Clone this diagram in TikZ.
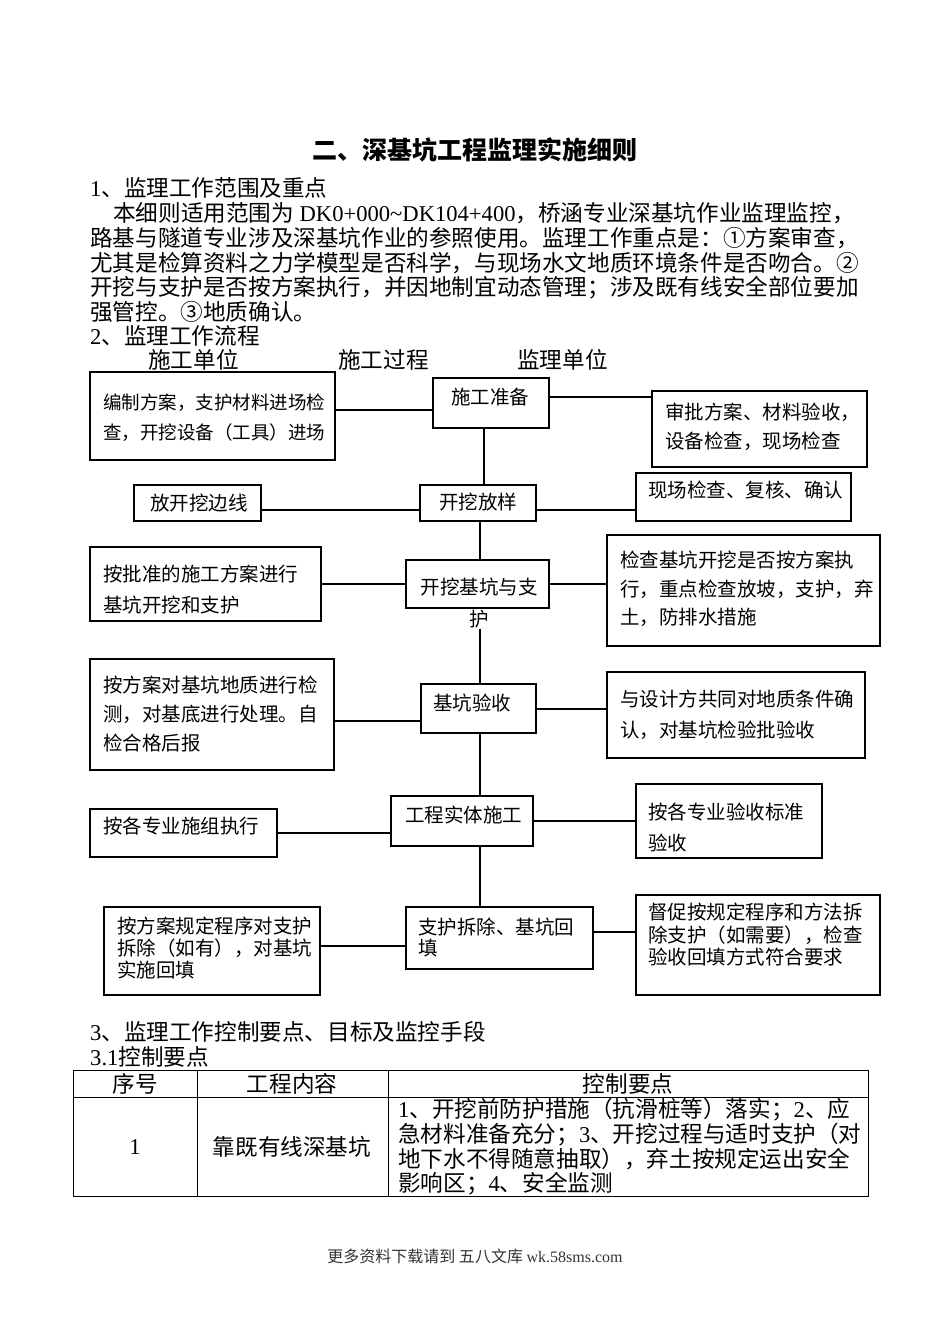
\documentclass[tikz,border=0pt]{standalone}
\usepackage{fontspec}
\setmainfont{Noto Sans CJK SC}
\newfontfamily\lat{Liberation Serif}

\tikzset{
  flowbox/.style={draw=black, line width=1.3pt, inner sep=0pt, outer sep=0pt},
  flowtxt/.style={inner sep=0pt, align=left, anchor=west, font=\fontsize{19.5}{30}\selectfont},
  link/.style={draw=black, line width=1.3pt},
  bodytxt/.style={inner sep=0pt, anchor=west, font=\fontsize{22.6}{24.5}\selectfont},
  celltxt/.style={inner sep=0pt, font=\fontsize{22.6}{24.6}\selectfont},
}

\begin{document}
\begin{tikzpicture}[x=1pt, y=-1pt]
  \fill[white] (0,0) rectangle (950,1344);
  \useasboundingbox (0,0) rectangle (950,1344);
  \node[inner sep=0pt, font=\fontsize{25}{30}\selectfont\bfseries] (title) at (475,150) {二、深基坑工程监理实施细则};
  \node[bodytxt] (sec1) at (90,188) {{\lat 1}、监理工作范围及重点};
  \foreach \i/\xx/\yy/\txt in {
    1/113/213/{本细则适用范围为{\lat\ DK0+000\textasciitilde DK104+400}，桥涵专业深基坑作业监理监控，},
    2/90/238/{路基与隧道专业涉及深基坑作业的参照使用。监理工作重点是：①方案审查，},
    3/90/263/{尤其是检算资料之力学模型是否科学，与现场水文地质环境条件是否吻合。②},
    4/90/288/{开挖与支护是否按方案执行，并因地制宜动态管理；涉及既有线安全部位要加},
    5/90/312/{强管控。③地质确认。}
  }{
    \node[bodytxt] (par\i) at (\xx,\yy) {\txt};
  }
  \node[bodytxt] (sec2) at (90,336) {{\lat 2}、监理工作流程};
  \foreach \n/\xx/\txt in {unit/148/施工单位, proc/338/施工过程, sup/517/监理单位}{
    \node[bodytxt] (\n) at (\xx,360) {\txt};
  }

  \foreach \n/\xa/\ya/\xb/\yb in {
    l1/90/372/335/460, c1/433/378/549/428, r1/652/391/867/467,
    l2/134/485/261/521, c2/420/485/536/521, r2/636/473/851/521,
    l3/90/547/321/621, c3/406/560/549/608, r3/607/535/880/646,
    l4/90/659/334/770, c4/421/684/536/733, r4/607/672/865/758,
    l5/90/809/277/857, c5/391/796/533/846, r5/636/784/822/858,
    l6/104/907/320/995, c6/406/907/593/969, r6/636/895/880/995
  }{
    \node[flowbox, minimum width=\xb-\xa, minimum height=\yb-\ya] (\n) at ({(\xa+\xb)/2},{(\ya+\yb)/2}) {};
  }

  \node[flowtxt, font=\fontsize{18.5}{30}\selectfont] (l1t) at (103,418) {编制方案，支护材料进场检\\查，开挖设备（工具）进场};
  \node[flowtxt] (c1t) at (451,397) {施工准备};
  \node[flowtxt, font=\fontsize{19.5}{29}\selectfont] (r1t) at (665,427) {审批方案、材料验收，\\设备检查，现场检查};
  \node[flowtxt, anchor=center] (l2t) at (199,503) {放开挖边线};
  \node[flowtxt, anchor=center] (c2t) at (478,502) {开挖放样};
  \node[flowtxt] (r2t) at (648,490) {现场检查、复核、确认};
  \node[flowtxt, font=\fontsize{19.5}{31}\selectfont] (l3t) at (103,590) {按批准的施工方案进行\\基坑开挖和支护};
  \node[flowtxt, anchor=north, align=center, font=\fontsize{19.5}{32}\selectfont] (c3t) at (479,578) {开挖基坑与支\\护};
  \node[flowtxt, font=\fontsize{19.5}{28.5}\selectfont] (r3t) at (620,589) {检查基坑开挖是否按方案执\\行，重点检查放坡，支护，弃\\土，防排水措施};
  \node[flowtxt, font=\fontsize{19.5}{29}\selectfont] (l4t) at (103,714) {按方案对基坑地质进行检\\测，对基底进行处理。自\\检合格后报};
  \node[flowtxt] (c4t) at (433,703) {基坑验收};
  \node[flowtxt, font=\fontsize{19.5}{31}\selectfont] (r4t) at (620,715) {与设计方共同对地质条件确\\认，对基坑检验批验收};
  \node[flowtxt] (l5t) at (103,826) {按各专业施组执行};
  \node[flowtxt] (c5t) at (405,815) {工程实体施工};
  \node[flowtxt, font=\fontsize{19.5}{31}\selectfont] (r5t) at (648,828) {按各专业验收标准\\验收};
  \node[flowtxt, font=\fontsize{19.5}{22}\selectfont] (l6t) at (117,948) {按方案规定程序对支护\\拆除（如有），对基坑\\实施回填};
  \node[flowtxt, font=\fontsize{19.5}{21}\selectfont] (c6t) at (418,937) {支护拆除、基坑回\\填};
  \node[flowtxt, font=\fontsize{19.5}{22.5}\selectfont] (r6t) at (648,935) {督促按规定程序和方法拆\\除支护（如需要），检查\\验收回填方式符合要求};

  \coordinate (spine) at (480,0);
  \draw[link] (c1.south -| 484,0) -- (c2.north -| 484,0);
  \draw[link] (c2.south -| spine) -- (c3.north -| spine);
  \draw[link] (c3t.south -| spine) -- (c4.north -| spine);
  \draw[link] (c4.south -| spine) -- (c5.north -| spine);
  \draw[link] (c5.south -| spine) -- (c6.north -| spine);
  \foreach \a/\b/\yy in {l1/c1/410, c1/r1/397, l2/c2/510, c2/r2/510, l3/c3/584, c3/r3/584,
                         l4/c4/721, c4/r4/709, l5/c5/833, c5/r5/821, l6/c6/946, c6/r6/932}{
    \draw[link] (\a.east |- 0,\yy) -- (\b.west |- 0,\yy);
  }

  \node[bodytxt] (sec3) at (90,1032) {{\lat 3}、监理工作控制要点、目标及监控手段};
  \node[bodytxt] (sec31) at (90,1057) {{\lat 3.1}控制要点};
  \draw[line width=0.9pt] (73,1070) rectangle (868,1196);
  \draw[line width=0.9pt] (73,1097) -- (868,1097);
  \foreach \xx in {197,388}{ \draw[line width=0.9pt] (\xx,1070) -- (\xx,1196); }
  \node[celltxt] (th1) at (135,1084) {序号};
  \node[celltxt] (th2) at (292,1084) {工程内容};
  \node[celltxt] (th3) at (628,1084) {控制要点};
  \node[celltxt] (td1) at (135,1147) {\lat 1};
  \node[celltxt] (td2) at (292,1147) {靠既有线深基坑};
  \node[celltxt, anchor=west, align=left] (td3) at (398,1147)
    {{\lat 1}、开挖前防护措施（抗滑桩等）落实；{\lat 2}、应\\急材料准备充分；{\lat 3}、开挖过程与适时支护（对\\地下水不得随意抽取），弃土按规定运出安全\\影响区；{\lat 4}、安全监测};

  \node[inner sep=0pt, text=black!80, font=\fontsize{16}{18}\selectfont] (footer) at (475,1256)
    {更多资料下载请到 五八文库 {\lat wk.58sms.com}};
\end{tikzpicture}
\end{document}
